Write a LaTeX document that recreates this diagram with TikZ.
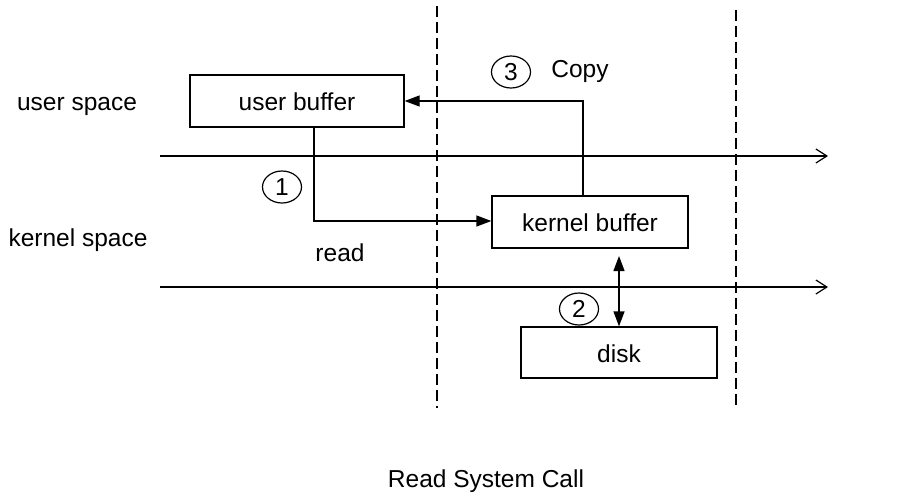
\documentclass[tikz,border=0pt]{standalone}
\usepackage{fontspec}
\setmainfont{Liberation Sans}
\usetikzlibrary{arrows.meta,shapes.geometric}
\begin{document}
\begin{tikzpicture}[x=1pt,y=-1pt,
  every node/.style={font=\fontsize{24.5}{28}\selectfont,text height=19pt,text depth=0pt},
  box/.style={draw,line width=1.3pt,inner sep=0pt},
  num/.style={draw,ellipse,line width=1.2pt,minimum width=39pt,minimum height=32pt,inner sep=0pt,text height=17.5pt},
  ln/.style={line width=1.3pt},
  flow/.style={ln,-{Triangle[length=15pt,width=11pt]}},
  axis/.style={line width=1.2pt,-{Straight Barb[length=11pt,width=14pt,line width=1.2pt]}},
  sep/.style={line width=1.3pt,dash pattern=on 11pt off 5pt}]
\useasboundingbox (0,0) rectangle (909,501);
% separators
\coordinate (s1t) at (437,6); \coordinate (s1b) at (437,408);
\coordinate (s2t) at (736,10); \coordinate (s2b) at (736,406);
\draw[sep] (s1t) -- (s1b);
\draw[sep] (s2t) -- (s2b);
% axes
\coordinate (a1s) at (160,156); \coordinate (a1e) at (828,156);
\coordinate (a2s) at (160,287); \coordinate (a2e) at (828,287);
\draw[axis] (a1s) -- (a1e);
\draw[axis] (a2s) -- (a2e);
% boxes
\node[box,minimum width=214pt,minimum height=52pt] (ub) at (297,101) {user buffer};
\node[box,minimum width=196pt,minimum height=52pt] (kb) at (590,222) {kernel buffer};
\node[box,minimum width=196pt,minimum height=51pt] (dk) at (619,352.5) {disk};
% labels
\node (us) at (77,101) {user space};
\node (ks) at (78,236.5) {kernel space};
\node (rd) at (340,251.5) {read};
\node (cp) at (580,67.5) {Copy};
\node (title) at (486,477.5) {Read System Call};
\node[num] (n1) at (282,187) {1};
\node[num] (n2) at (579,309) {2};
\node[num] (n3) at (511,72) {3};
% connectors
\draw[flow] (ub.south -| 314,0) |- (kb.west |- 0,221);
\draw[flow] (kb.north -| 583,0) |- (ub.east |- 0,101);
\draw[ln,{Triangle[length=15pt,width=11pt]}-{Triangle[length=15pt,width=11pt]}] (619,256) coordinate (d1) -- (dk.north -| d1);
\end{tikzpicture}
\end{document}
